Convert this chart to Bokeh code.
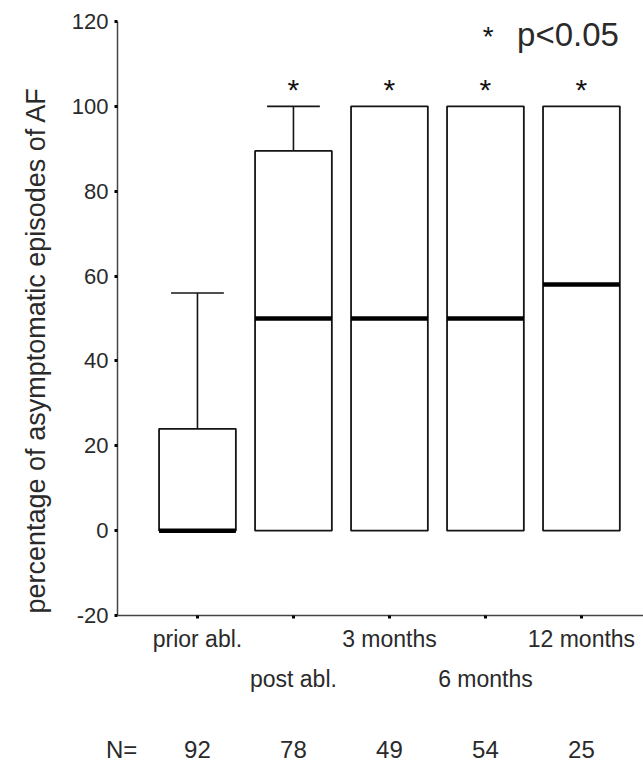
from bokeh.plotting import figure
from bokeh.models import Range1d, LinearAxis, FixedTicker, ColumnDataSource, Title
from bokeh.core.properties import value
from bokeh.embed import file_html
from bokeh.resources import INLINE

# Box-plot summary per time point (percent of asymptomatic AF episodes)
categories = ["prior abl.", "post abl.", "3 months", "6 months", "12 months"]
lower = [0, 0, 0, 0, 0]
q1 = [0, 0, 0, 0, 0]
median = [0, 50, 50, 50, 58]
q3 = [24, 89.5, 100, 100, 100]
upper = [56, 100, 100, 100, 100]
n_patients = [92, 78, 49, 54, 25]
significant = [False, True, True, True, True]
y_ticks = [-20, 0, 20, 40, 60, 80, 100, 120]
y_label = "percentage of asymptomatic episodes of AF"

FONT = "Liberation Sans"
INK = "#151515"
TEXT = "#2a2a2a"
BOX_W = 0.8
CAP_W = 0.55
STAR_Y = 104.0
N_LABEL_X = 0.21

xs = list(range(1, len(categories) + 1))

src = ColumnDataSource(data=dict(
    x=xs,
    left=[x - BOX_W / 2 for x in xs],
    right=[x + BOX_W / 2 for x in xs],
    lower=lower, q1=q1, median=median, q3=q3, upper=upper,
))

p = figure(frame_width=527, frame_height=594,
           x_range=Range1d(0.167, 5.657), y_range=Range1d(-20, 120),
           output_backend="svg", toolbar_location=None,
           min_border_left=116, min_border_right=0,
           min_border_top=21, min_border_bottom=0)
p.outline_line_color = None
p.xgrid.visible = False
p.ygrid.visible = False
p.background_fill_color = "white"
p.border_fill_color = "white"

# whiskers (stems), drawn first so the boxes sit on top
p.segment(x0="x", y0="q3", x1="x", y1="upper", source=src,
          line_color=INK, line_width=1.6)
p.segment(x0="x", y0="lower", x1="x", y1="q1", source=src,
          line_color=INK, line_width=1.6)

# caps only where the whisker extends past the box
cap_x = [x for x, t, u in zip(xs, q3, upper) if u > t]
cap_y = [u for t, u in zip(q3, upper) if u > t]
p.segment(x0=[x - CAP_W / 2 for x in cap_x], x1=[x + CAP_W / 2 for x in cap_x],
          y0=cap_y, y1=cap_y, line_color=INK, line_width=1.6)

# boxes
p.quad(left="left", right="right", bottom="q1", top="q3", source=src,
       fill_color="white", line_color=INK, line_width=1.8)

# medians
p.segment(x0="left", x1="right", y0="median", y1="median", source=src,
          line_color="black", line_width=4.5, line_cap="butt")

# significance stars
sx = [x for x, s in zip(xs, significant) if s]
p.text(x=sx, y=[STAR_Y] * len(sx), text=["*"] * len(sx),
       text_font=value(FONT), text_font_size="30px", text_color=INK,
       text_align="center", text_baseline="middle")

# key in the top right corner
p.text(x=[4.03], y=[116.5], text=["*"], text_font=value(FONT),
       text_font_size="28px", text_color=INK,
       text_align="center", text_baseline="middle")
p.text(x=[4.33], y=[117.0], text=["p<0.05"], text_font=value(FONT),
       text_font_size="33px", text_color=TEXT,
       text_align="left", text_baseline="middle")

# y axis
yax = p.yaxis[0]
yax.ticker = FixedTicker(ticks=y_ticks)
yax.major_label_overrides = {t: str(t) for t in y_ticks}
yax.major_label_text_font = FONT
yax.major_label_text_font_size = "22px"
yax.major_label_text_color = TEXT
yax.major_label_standoff = 6
yax.major_tick_out = 3
yax.major_tick_in = 0
yax.major_tick_line_width = 3
yax.major_tick_line_color = "black"
yax.minor_tick_out = 0
yax.minor_tick_in = 0
yax.axis_line_width = 1.5
yax.axis_line_color = "#444444"

# vertical axis title, running up from the bottom of the frame
ytitle = Title(text=y_label, align="left", offset=2, standoff=36,
               text_font=FONT, text_font_size="27px",
               text_font_style="normal", text_color=TEXT)
p.add_layout(ytitle, "left")


def style_x_axis(ax, size):
    ax.major_label_text_font = FONT
    ax.major_label_text_font_size = size
    ax.major_label_text_color = TEXT
    ax.minor_tick_out = 0
    ax.minor_tick_in = 0


# x axis: tick dots for every group, labels for the odd ones
xax = p.xaxis[0]
xax.ticker = FixedTicker(ticks=xs)
xax.major_label_overrides = {x: (c if i % 2 == 0 else "")
                             for i, (x, c) in enumerate(zip(xs, categories))}
style_x_axis(xax, "23px")
xax.major_tick_out = 3
xax.major_tick_in = 0
xax.major_tick_line_width = 3
xax.major_tick_line_color = "black"
xax.major_label_standoff = 7
xax.axis_line_width = 1.5
xax.axis_line_color = "#444444"

# second row of group labels (staggered)
even_x = [x for i, x in enumerate(xs) if i % 2 == 1]
ax2 = LinearAxis(ticker=FixedTicker(ticks=even_x),
                 major_label_overrides={x: categories[x - 1] for x in even_x})
style_x_axis(ax2, "23px")
ax2.axis_line_color = None
ax2.major_tick_line_color = None
ax2.major_tick_out = 0
ax2.major_tick_in = 0
ax2.major_label_standoff = 11
p.add_layout(ax2, "below")

# group sizes
ax3 = LinearAxis(ticker=FixedTicker(ticks=[N_LABEL_X] + xs))
overrides = {N_LABEL_X: "N="}
overrides.update({x: str(n) for x, n in zip(xs, n_patients)})
ax3.major_label_overrides = overrides
style_x_axis(ax3, "24px")
ax3.axis_line_color = None
ax3.major_tick_line_color = None
ax3.major_tick_out = 0
ax3.major_tick_in = 0
ax3.major_label_standoff = 41
p.add_layout(ax3, "below")

open("out.html", "w").write(file_html(p, INLINE))
